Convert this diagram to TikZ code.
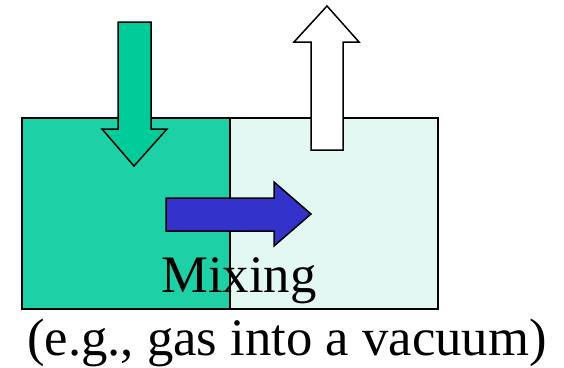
\documentclass[tikz,border=0pt]{standalone}
\usepackage{fontspec}
\setmainfont{Liberation Serif}
\definecolor{boxgreen}{RGB}{29,208,165}
\definecolor{arrgreen}{RGB}{0,204,153}
\definecolor{paleaqua}{RGB}{228,248,243}
\definecolor{arrblue}{RGB}{51,51,204}
\begin{document}
\begin{tikzpicture}[x=1pt,y=-1pt,
  boxstyle/.style={draw=black,line width=1.5pt},
  arrowshape/.style={draw=black,line width=1.5pt,line join=miter},
  lbl/.style={inner sep=0pt,anchor=base west,font=\fontsize{52.7}{60}\selectfont}]
\useasboundingbox (0,0) rectangle (564,367);
\fill[boxgreen] (22,118) rectangle (230,309);
\fill[paleaqua] (230,118) rectangle (438,309);
\draw[boxstyle] (22,118) rectangle (230,309);
\draw[boxstyle] (230,118) rectangle (438,309);
% down arrow
\draw[arrowshape,fill=arrgreen] (118,22) -- (151,22) -- (151,129) -- (167,129) -- (134,166) -- (102,129) -- (118,129) -- cycle;
% up arrow
\draw[arrowshape,fill=white] (311,150) -- (343,150) -- (343,42) -- (359,42) -- (327,6) -- (294,42) -- (311,42) -- cycle;
% right arrow
\draw[arrowshape,fill=arrblue] (166,198) -- (274,198) -- (274,182) -- (311,214) -- (274,246) -- (274,231) -- (166,231) -- cycle;
\node[lbl] (mix) at (161,292) {Mixing};
\node[lbl] (eg) at (27,355) {(e.g., gas into a vacuum)};
\end{tikzpicture}
\end{document}
